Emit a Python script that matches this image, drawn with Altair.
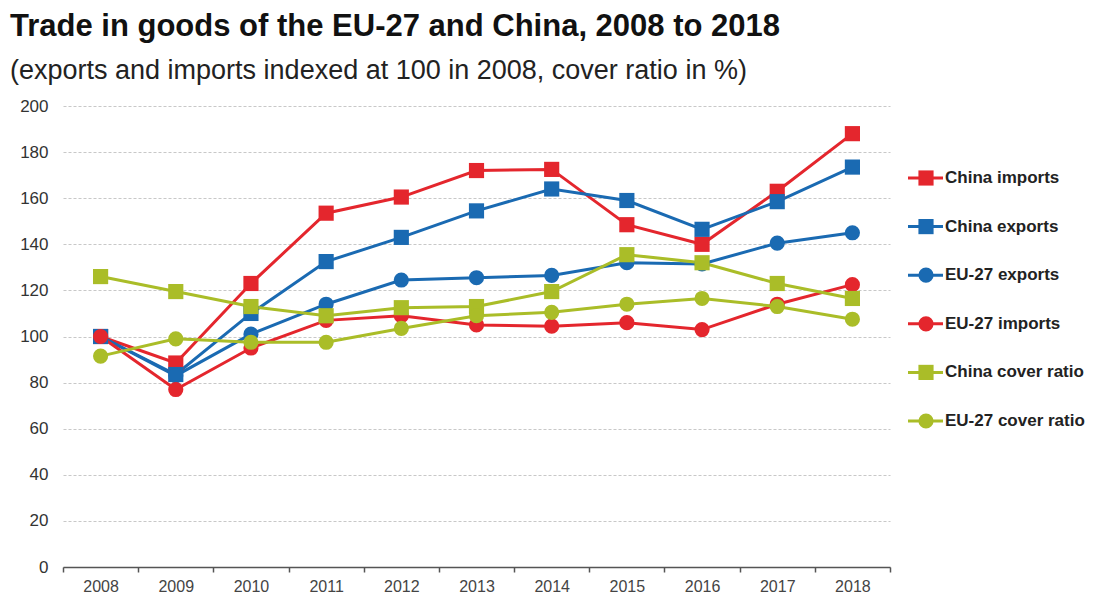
import altair as alt
import pandas as pd

years = ["2008", "2009", "2010", "2011", "2012", "2013", "2014", "2015", "2016", "2017", "2018"]

series_names = ["China imports", "China exports", "EU-27 exports", "EU-27 imports",
                "China cover ratio", "EU-27 cover ratio"]

china_imports = [100, 88.5, 123, 153.5, 160.5, 172, 172.5, 148.5, 140, 163, 188]
china_exports = [100, 83.5, 110, 132.5, 143, 154.5, 164, 159, 146.5, 158.5, 173.5]
eu_exports = [100, 83, 101, 114, 124.5, 125.5, 126.5, 132, 131.5, 140.5, 145]
eu_imports = [100, 77, 95, 107, 109, 105, 104.5, 106, 103, 114, 122.5]
china_cover = [126, 119.5, 113, 109, 112.5, 113, 119.5, 135.5, 132, 123, 116.5]
eu_cover = [91.5, 99, 97.5, 97.5, 103.5, 109, 110.5, 114, 116.5, 113, 107.5]

values = [china_imports, china_exports, eu_exports, eu_imports, china_cover, eu_cover]
colors = ["#E4262D", "#1A6AB2", "#1A6AB2", "#E4262D", "#AABD28", "#AABD28"]
shapes = ["square", "square", "circle", "circle", "square", "circle"]
sizes = [230, 230, 160, 160, 230, 160]
legend_sizes = [100, 100, 75, 75, 100, 75]

rows = []
for i, (name, vals) in enumerate(zip(series_names, values)):
    for y, v in zip(years, vals):
        rows.append({"series": name, "order": i, "year": y, "value": v})
df = pd.DataFrame(rows)

color_scale = alt.Scale(domain=series_names, range=colors)
shape_scale = alt.Scale(domain=series_names, range=shapes)
size_scale = alt.Scale(domain=series_names, range=sizes)

x_enc = alt.X("year:N", scale=alt.Scale(type="band", paddingInner=0, paddingOuter=0),
              axis=alt.Axis(title=None, labelAngle=0, tickBand="extent", grid=False,
                            domainColor="#555555", domainWidth=1.5, tickColor="#555555",
                            tickSize=5, tickWidth=1.5,
                            labelFontSize=16, labelPadding=6, labelColor="#444444",
                            labelFont="Liberation Sans"))
y_enc = alt.Y("value:Q", scale=alt.Scale(domain=[0, 200], nice=False),
              axis=alt.Axis(title=None, values=list(range(0, 201, 20)), domain=False, ticks=False,
                            grid=True, gridDash=[3, 2], gridColor="#c8c8c8", gridWidth=1.2,
                            labelFontSize=17, labelPadding=15, labelColor="#333333",
                            labelFont="Liberation Sans", minExtent=53))

base = alt.Chart(df)
lines = base.mark_line(strokeWidth=3).encode(
    x=x_enc, y=y_enc,
    color=alt.Color("series:N", scale=color_scale, legend=None),
    detail="series:N",
    order=alt.Order("order:Q"),
)
points = base.mark_point(filled=True, opacity=1).encode(
    x=x_enc, y=y_enc,
    color=alt.Color("series:N", scale=color_scale, legend=None),
    shape=alt.Shape("series:N", scale=shape_scale, legend=None),
    size=alt.Size("series:N", scale=size_scale, legend=None),
    order=alt.Order("order:Q"),
)
main = alt.layer(lines, points).properties(width=827, height=461)

leg_df = pd.DataFrame({"series": series_names})
leg_y = alt.Y("series:N", scale=alt.Scale(type="point", domain=series_names, range=[72, 315], padding=0),
              axis=None)
leg_color = alt.Color("series:N", scale=color_scale, legend=None)
leg_base = alt.Chart(leg_df)
leg_rule = leg_base.mark_rule(strokeWidth=3).encode(
    x=alt.value(7), x2=alt.value(42), y=leg_y, color=leg_color)
leg_pt = leg_base.mark_point(filled=True, opacity=1).encode(
    x=alt.value(25), y=leg_y, color=leg_color,
    shape=alt.Shape("series:N", scale=shape_scale, legend=None),
    size=alt.Size("series:N", scale=alt.Scale(domain=series_names, range=legend_sizes), legend=None))
leg_txt = leg_base.mark_text(align="left", baseline="middle", fontSize=17, fontWeight="bold",
                             color="#222222", font="Liberation Sans").encode(
    x=alt.value(44), y=leg_y, text="series:N")
legend = alt.layer(leg_rule, leg_pt, leg_txt).properties(width=175, height=461)

chart = alt.hconcat(main, legend, spacing=10).properties(
    title=alt.TitleParams(
        text="Trade in goods of the EU-27 and China, 2008 to 2018",
        subtitle="(exports and imports indexed at 100 in 2008, cover ratio in %)",
        anchor="start", frame="bounds", fontSize=31, fontWeight="bold", color="#111111",
        font="Liberation Sans", subtitleFont="Liberation Sans", subtitleFontSize=27,
        subtitleColor="#222222", subtitlePadding=15, offset=12),
    padding={"left": 2, "top": 3, "right": 0, "bottom": 0},
).configure_view(stroke=None).configure_concat(spacing=10)

chart.save("out.html", embed_options={"renderer": "svg", "actions": False})
